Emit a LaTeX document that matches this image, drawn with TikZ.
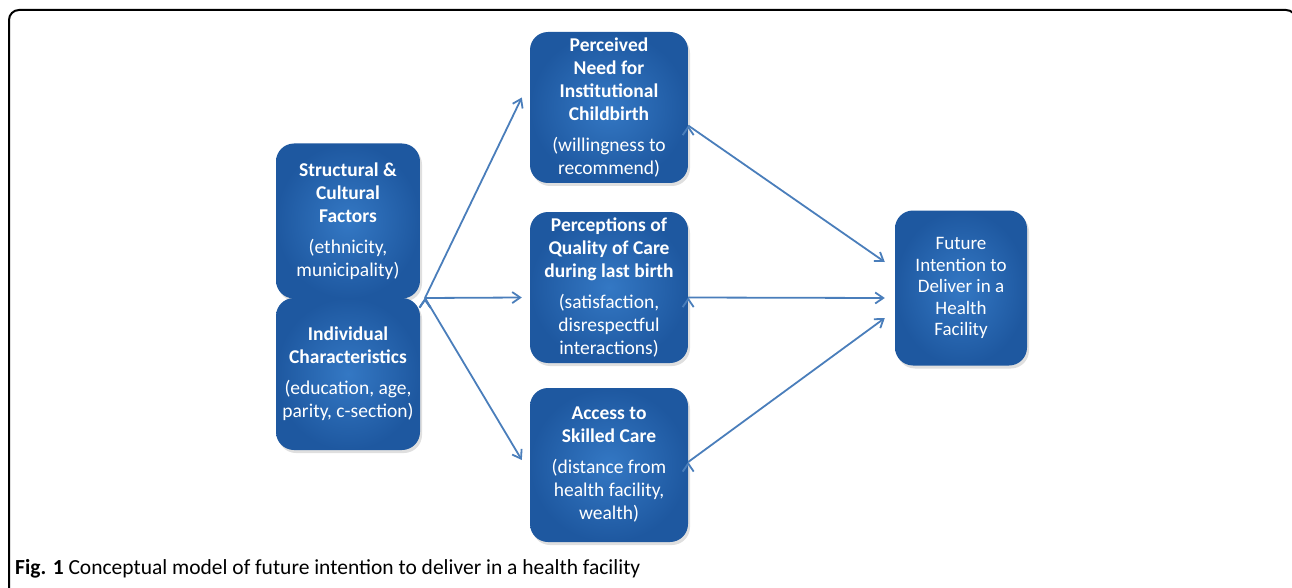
\documentclass[tikz,border=0pt]{standalone}
\usepackage{fontspec}
\setmainfont{Carlito}
\usepackage{tikz}
\usetikzlibrary{arrows.meta,shadows}

\definecolor{boxin}{RGB}{52,120,196}
\definecolor{boxout}{RGB}{30,88,160}
\definecolor{arrowblue}{RGB}{74,126,187}

\begin{document}
\begin{tikzpicture}[x=1pt,y=-1pt,
	factor/.style={shape=rectangle,rounded corners=18pt,inner color=boxin,outer color=boxout,
		text=white,align=center,font=\fontsize{19.5}{23}\selectfont,inner sep=2pt,
		drop shadow={opacity=0.25,shadow xshift=2pt,shadow yshift=-3pt}},
	link/.style={draw=arrowblue,line width=1.8pt,-{Straight Barb[length=8pt,width=11pt]}}]
	
	\clip (0,0) rectangle (1292,588);
	\draw[line width=2pt,rounded corners=10pt] (9,600) -- (9,10) -- (1296,10) -- (1296,600);
	
	\node[factor,minimum width=144pt,minimum height=155pt] (struct)  at (348, 221)   {\textbf{Structural \&}\\\textbf{Cultural}\\\textbf{Factors}\\[8pt](ethnicity,\\municipality)};
	\node[factor,minimum width=144pt,minimum height=152pt] (indiv)   at (348, 374)   {\textbf{Individual}\\\textbf{Characteristics}\\[8pt](education, age,\\parity, c-section)};
	\node[factor,minimum width=158pt,minimum height=151pt] (need)    at (609, 107.5) {\textbf{Perceived}\\\textbf{Need for}\\\textbf{Institutional}\\\textbf{Childbirth}\\[8pt](willingness to\\recommend)};
	\node[factor,minimum width=158pt,minimum height=151pt] (quality) at (609, 287.5) {\textbf{Perceptions of}\\\textbf{Quality of Care}\\\textbf{during last birth}\\[8pt](satisfaction,\\disrespectful\\interactions)};
	\node[factor,minimum width=158pt,minimum height=154pt] (access)  at (609, 465)   {\textbf{Access to}\\\textbf{Skilled Care}\\[8pt](distance from\\health facility,\\wealth)};
	\node[factor,minimum width=132pt,minimum height=155pt,font=\fontsize{19}{21.5}\selectfont] (future)  at (961, 288)   {Future\\Intention to\\Deliver in a\\Health\\Facility};
	\coordinate (fork) at (425, 298);
	
	\path[link] (fork) edge ([yshift=10pt,xshift=-8pt]need.west);
	\path[link] (fork) edge ([yshift=-10pt,xshift=-8pt]quality.west);
	\path[link] (fork) edge ([yshift=5pt,xshift=-8pt]access.west);
	\path[link] ([yshift=-18pt]need.east) edge ([yshift=26pt,xshift=-10pt]future.west);
	\path[link] ([yshift=-10pt]quality.east) edge ([yshift=-10pt,xshift=-10pt]future.west);
	\path[link] ([yshift=3pt]access.east) edge ([yshift=-30pt,xshift=-10pt]future.west);
	
	\node[anchor=base west,font=\fontsize{21.5}{24}\selectfont,inner sep=0pt] (caption) at (15, 574)
		{\textbf{Fig. 1} Conceptual model of future intention to deliver in a health facility};
	
	\end{tikzpicture}
\end{document}
